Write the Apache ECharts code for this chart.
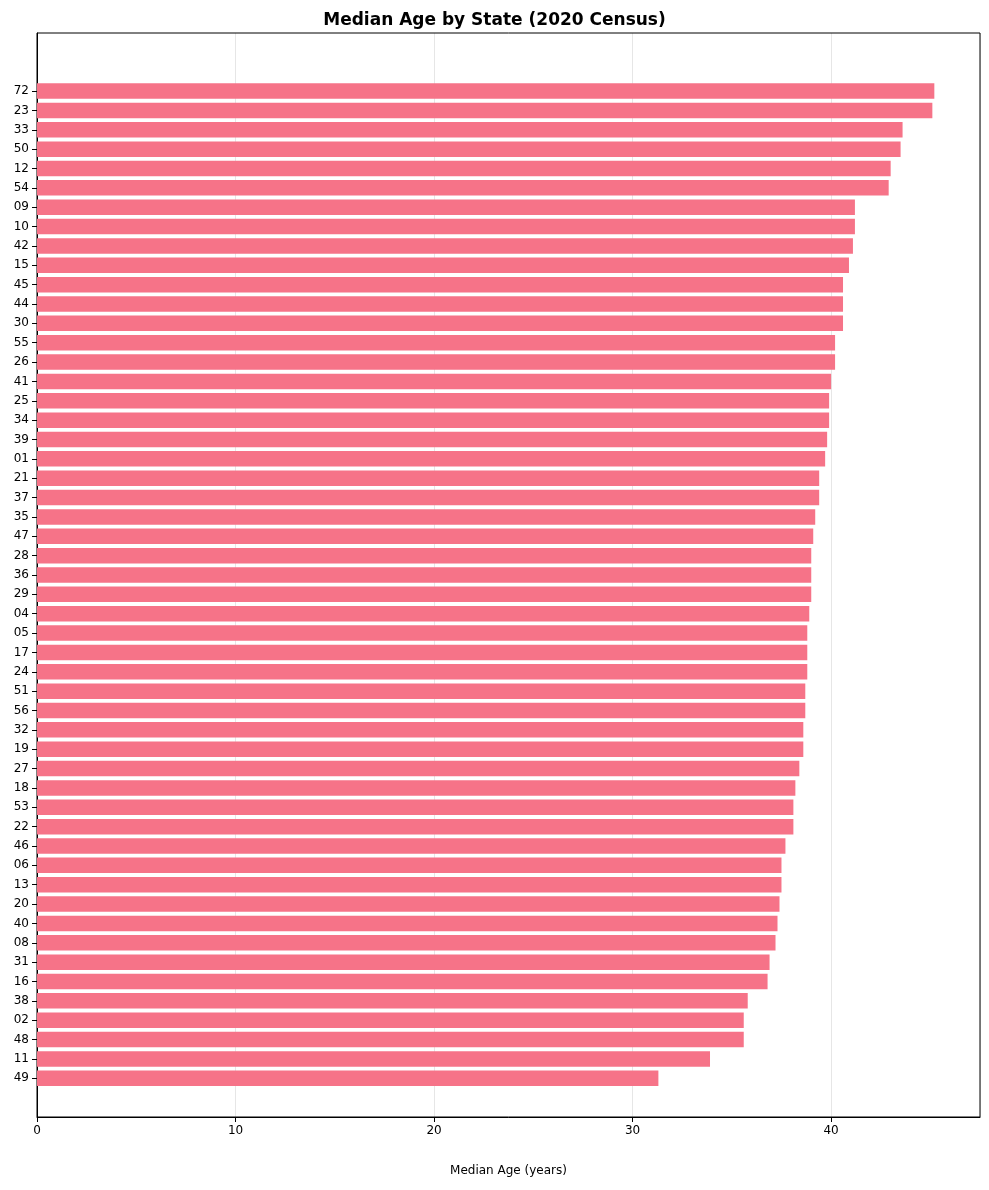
<!DOCTYPE html>
<html><head><meta charset="utf-8">
<script src="https://cdn.jsdelivr.net/npm/echarts@6/dist/echarts.min.js"></script>
<style>html,body{margin:0;padding:0;background:#fff}#c{width:989px;height:1190px}</style>
</head><body><div id="c"></div>
<script>
const states = ["72","23","33","50","12","54","09","10","42","15","45","44","30","55","26","41","25","34","39","01","21","37","35","47","28","36","29","04","05","17","24","51","56","32","19","27","18","53","22","46","06","13","20","40","08","31","16","38","02","48","11","49"];
const medianAge = [45.2,45.1,43.6,43.5,43.0,42.9,41.2,41.2,41.1,40.9,40.6,40.6,40.6,40.2,40.2,40.0,39.9,39.9,39.8,39.7,39.4,39.4,39.2,39.1,39.0,39.0,39.0,38.9,38.8,38.8,38.8,38.7,38.7,38.6,38.6,38.4,38.2,38.1,38.1,37.7,37.5,37.5,37.4,37.3,37.2,36.9,36.8,35.8,35.6,35.6,33.9,31.3];
const padTop = 3, padBot = 2;
const n = states.length;
const cats = [];
for (let i=0;i<padTop;i++) cats.push('_top'+i);
states.forEach(s=>cats.push(s));
for (let i=0;i<padBot;i++) cats.push('_bot'+i);
const vals = [...Array(padTop).fill(null), ...medianAge, ...Array(padBot).fill(null)];
const isReal = i => i>=padTop && i<padTop+n;
const chart = echarts.init(document.getElementById('c'));
chart.setOption({
  animation:false,
  title:{text:'Median Age by State (2020 Census)',left:'center',top:7,textStyle:{fontFamily:'DejaVu Sans',fontSize:17,fontWeight:'bold',color:'#000'}},
  grid:{left:37,right:9,top:33,bottom:73,containLabel:false,outerBoundsMode:'none'},
  xAxis:{type:'value',min:0,max:47.5,interval:10,
    name:'Median Age (years)',nameLocation:'middle',nameGap:48,
    nameTextStyle:{fontFamily:'DejaVu Sans',fontSize:12,color:'#000'},
    axisLabel:{fontFamily:'DejaVu Sans',fontSize:12,color:'#000',showMaxLabel:false},
    axisLine:{show:true,lineStyle:{color:'#000'}},axisTick:{show:true,lineStyle:{color:'#000'}},
    splitLine:{show:true,lineStyle:{color:'#e6e6e6'}}},
  yAxis:{type:'category',inverse:true,data:cats,boundaryGap:false,
    axisLabel:{fontFamily:'DejaVu Sans',fontSize:12,color:'#000',interval:0,formatter:(v)=>v.startsWith('_')?'':v},
    axisTick:{show:true,interval:(i)=>isReal(i),lineStyle:{color:'#000'}},
    axisLine:{show:true,lineStyle:{color:'#000'}}},
  series:[{type:'bar',data:vals,barWidth:15.5,itemStyle:{color:'#F67388'}}]
});
chart.setOption({graphic:[{type:'rect',shape:{x:37,y:33,width:943,height:1084},style:{fill:'none',stroke:'#000',lineWidth:1},silent:true}]});
</script></body></html>
